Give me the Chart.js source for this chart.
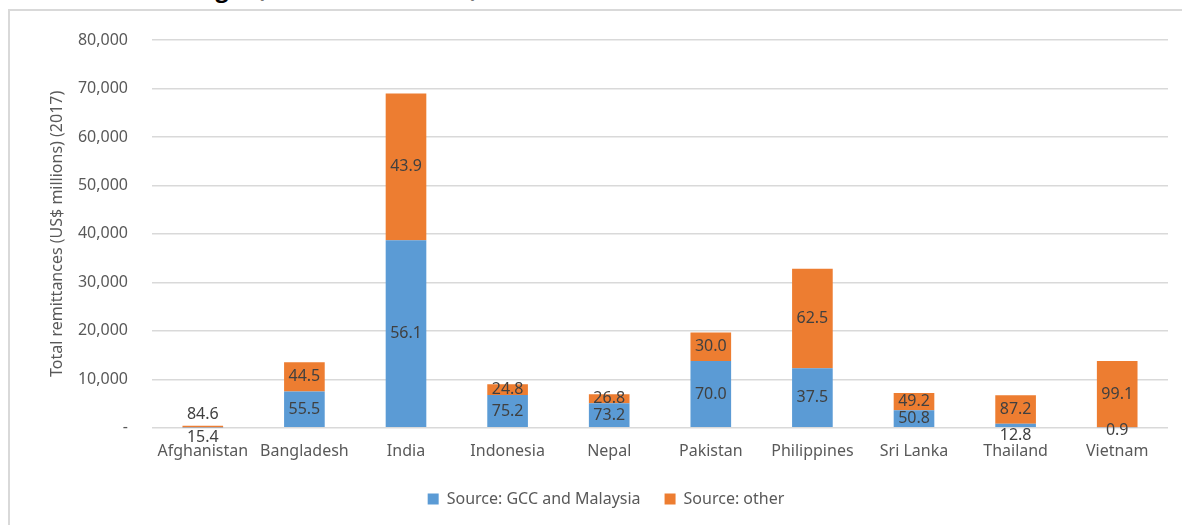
<!DOCTYPE html>
<html>
<head>
<meta charset="utf-8">
<script src="https://cdn.jsdelivr.net/npm/chart.js@4"></script>
<style>
  body { margin: 0; background: #fff; overflow: hidden; }
  #frame { position: absolute; left: 8px; top: 9px; width: 1200px; height: 540px;
           border-left: 2px solid #d9d9d9; border-top: 2px solid #d9d9d9; }
  #title { position: absolute; right: 704px; top: -23px; font: bold 23px/23px "Open Sans", sans-serif;
           color: #000; white-space: nowrap; text-align: right; }
  #wrap { position: absolute; left: 0; top: 0; width: 1182px; height: 525px; }
</style>
</head>
<body>
<div id="frame"></div>
<div id="title">Total remittances and origin (US$ millions, 2017)</div>
<div id="wrap"><canvas id="chart"></canvas></div>
<script>
const countries = ['Afghanistan', 'Bangladesh', 'India', 'Indonesia', 'Nepal',
                   'Pakistan', 'Philippines', 'Sri Lanka', 'Thailand', 'Vietnam'];
// total inflows, US$ millions
const totals = [410, 13502, 68968, 8997, 6928, 19665, 32810, 7164, 6721, 13781];
// share of each total by source, %
const gccShare = [15.4, 55.5, 56.1, 75.2, 73.2, 70.0, 37.5, 50.8, 12.8, 0.9];
const otherShare = [84.6, 44.5, 43.9, 24.8, 26.8, 30.0, 62.5, 49.2, 87.2, 99.1];
const yTicks = [0, 10000, 20000, 30000, 40000, 50000, 60000, 70000, 80000];

// vertical nudge for labels on slivers too thin to hold them
const gccNudge = [10, 0, 0, 0, 0, 0, 0, 0, 10, 3];
const otherNudge = [-12, 0, 0, 0, 0, 0, 0, 0, 0, 0];

const gccValues = totals.map((t, i) => t * gccShare[i] / 100);
const otherValues = totals.map((t, i) => t * otherShare[i] / 100);

const segmentLabels = {
  id: 'segmentLabels',
  afterDatasetsDraw(chart) {
    const ctx = chart.ctx;
    ctx.save();
    ctx.font = '16px "Noto Sans"';
    ctx.fillStyle = '#404040';
    ctx.textAlign = 'center';
    ctx.textBaseline = 'middle';
    chart.data.datasets.forEach((ds, di) => {
      chart.getDatasetMeta(di).data.forEach((bar, i) => {
        const p = bar.getProps(['x', 'y', 'base'], true);
        ctx.fillText(ds.shares[i].toFixed(1), p.x, (p.y + p.base) / 2 + ds.nudge[i]);
      });
    });
    ctx.restore();
  }
};

Chart.defaults.font.family = '"Noto Sans", sans-serif';
Chart.defaults.color = '#595959';

new Chart(document.getElementById('chart'), {
  type: 'bar',
  data: {
    labels: countries,
    datasets: [
      { label: 'Source: GCC and Malaysia', data: gccValues, shares: gccShare, nudge: gccNudge,
        backgroundColor: '#5b9bd5', categoryPercentage: 1, barPercentage: 0.4 },
      { label: 'Source: other', data: otherValues, shares: otherShare, nudge: otherNudge,
        backgroundColor: '#ed7d31', categoryPercentage: 1, barPercentage: 0.4 }
    ]
  },
  options: {
    responsive: true,
    maintainAspectRatio: false,
    animation: false,
    layout: { padding: { top: 40, left: 44, right: 14, bottom: 8 } },
    plugins: {
      legend: {
        position: 'bottom',
        labels: { boxWidth: 11, boxHeight: 11, padding: 24, font: { size: 16 }, color: '#595959' }
      },
      tooltip: { enabled: false }
    },
    scales: {
      x: {
        stacked: true,
        grid: { display: false },
        border: { display: false },
        ticks: { font: { size: 16 }, color: '#595959', padding: 6 }
      },
      y: {
        stacked: true,
        min: 0,
        max: 80000,
        afterBuildTicks: axis => { axis.ticks = yTicks.map(v => ({ value: v })); },
        afterFit: axis => { axis.width = 108; },
        grid: { color: '#d9d9d9', lineWidth: 1.5, drawTicks: false },
        border: { display: false },
        ticks: {
          font: { size: 16 }, color: '#595959', padding: 24,
          callback: v => v === 0 ? '-' : v.toLocaleString('en-US')
        },
        title: { display: true, text: 'Total remittances (US$ millions) (2017)', font: { size: 16 },
                 color: '#595959', padding: 4 }
      }
    }
  },
  plugins: [segmentLabels]
});
</script>
</body>
</html>
